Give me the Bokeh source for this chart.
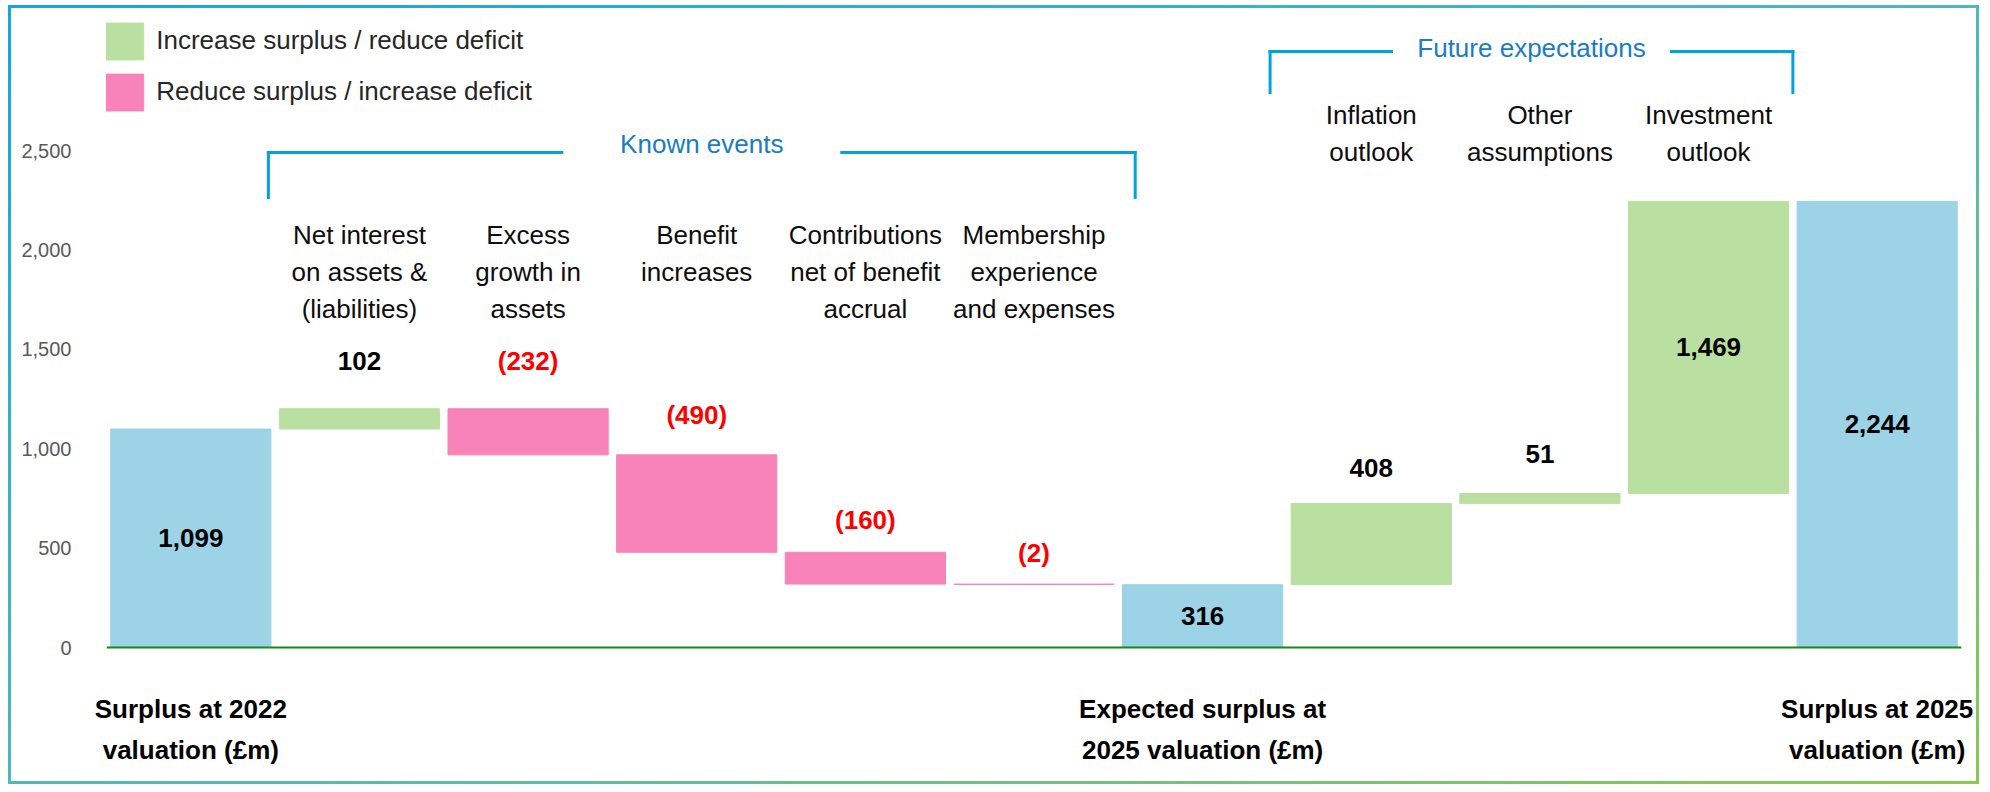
from bokeh.plotting import figure
from bokeh.models import (ColumnDataSource, Range1d, FixedTicker, NumeralTickFormatter,
                          Span, Legend, LegendItem, LinearAxis)
from bokeh.core.properties import value
from bokeh.embed import file_html
from bokeh.resources import INLINE

# ---------------- data ----------------
kinds = ["total", "delta", "delta", "delta", "delta", "delta",
         "total", "delta", "delta", "delta", "total"]
amounts = [1099, 102, -232, -490, -160, -2, 316, 408, 51, 1469, 2244]
top_labels = ["", "Net interest\non assets &\n(liabilities)", "Excess\ngrowth in\nassets",
              "Benefit\nincreases", "Contributions\nnet of benefit\naccrual",
              "Membership\nexperience\nand expenses", "",
              "Inflation\noutlook", "Other\nassumptions", "Investment\noutlook", ""]
bottom_labels = ["Surplus at 2022\nvaluation (£m)", "", "", "", "", "",
                 "Expected surplus at\n2025 valuation (£m)", "", "", "",
                 "Surplus at 2025\nvaluation (£m)"]
legend_labels = ["Increase surplus / reduce deficit", "Reduce surplus / increase deficit"]
group_titles = ["Known events", "Future expectations"]
y_ticks = [0, 500, 1000, 1500, 2000, 2500]

# ---------------- layout / style ----------------
FONT = "Liberation Sans"
W, H = 1971, 779
MB_LEFT, MB_RIGHT, MB_BOTTOM = 95, 21, 127
PAGE_TOP = 8           # canvas top on the page (5px margin + 3px border)
FRAME_BOTTOM = PAGE_TOP + H - MB_BOTTOM
Y0_PAGE = 647          # page y of value 0
PPU = 99.4 / 500       # pixels per unit
LH = 26 * 1.149        # Bokeh line box for 26px Liberation Sans


def Y(page_y):
    return (Y0_PAGE - page_y) / PPU


PX_PER_CAT = (W - MB_LEFT - MB_RIGHT) / 11.0
BLUE, GREEN, PINK = "#9dd3e6", "#b9e0a1", "#f783b9"
label_gap_px = [None, 48, 48, 40, 32, 31, None, 36, 39, None, None]
top_label_row = ["", "known", "known", "known", "known", "known", "", "future", "future", "future", ""]
row_top_y = {"known": Y(219.5), "future": Y(99.5)}
groups = [  # title, left (cat), right (cat), line page-y, bottom page-y, title page-y
    (group_titles[0], 0.46, 5.6, 152, 197, 143),
    (group_titles[1], 6.4, 9.5, 51, 92, 47),
]
GAP_PX = 140

# ---------------- waterfall geometry ----------------
x = list(range(len(amounts)))
bottoms, tops = [], []
level = 0
for k, a in zip(kinds, amounts):
    if k == "total":
        b, t = 0, a
        level = a
    else:
        b, t = level, level + a
        level += a
    bottoms.append(min(b, t))
    tops.append(max(b, t))


def subset(pred):
    idx = [i for i in x if pred(i)]
    return ColumnDataSource(dict(x=[x[i] for i in idx], bottom=[bottoms[i] for i in idx],
                                 top=[tops[i] for i in idx]))


src_tot = subset(lambda i: kinds[i] == "total")
src_inc = subset(lambda i: kinds[i] == "delta" and amounts[i] > 0)
src_dec = subset(lambda i: kinds[i] == "delta" and amounts[i] < 0)

p = figure(width=W, height=H, x_range=Range1d(-0.5, 10.5),
           y_range=Range1d(Y(FRAME_BOTTOM), Y(PAGE_TOP)),
           output_backend="svg", toolbar_location=None, x_axis_type=None,
           min_border_left=MB_LEFT, min_border_right=MB_RIGHT,
           min_border_top=0, min_border_bottom=MB_BOTTOM)
p.outline_line_color = None
p.ygrid.visible = False
p.background_fill_color = "white"
p.border_fill_color = "white"
p.styles = {"margin-left": "8px", "margin-top": "5px",
            "border": "3px solid #1ca7e0",
            "border-image": "linear-gradient(to bottom right, #13a6e3, #4fb8b8, #8bc853) 1"}

BW = 0.95
p.vbar(x="x", bottom="bottom", top="top", width=BW, source=src_tot, color=BLUE)
r_inc = p.vbar(x="x", bottom="bottom", top="top", width=BW, source=src_inc, color=GREEN)
r_dec = p.vbar(x="x", bottom="bottom", top="top", width=BW, source=src_dec, color=PINK)

p.add_layout(Span(location=0, dimension="width", line_color="#178a17", line_width=2))

# y axis
ax = p.yaxis[0]
ax.ticker = FixedTicker(ticks=y_ticks)
ax.formatter = NumeralTickFormatter(format="0,0")
ax.axis_line_color = None
ax.major_tick_line_color = None
ax.minor_tick_line_color = None
ax.major_label_text_font = FONT
ax.major_label_text_font_size = "20px"
ax.major_label_text_color = "#595959"
ax.major_label_standoff = 29

# x axis carrying the three total-bar captions
xt = [i for i in x if bottom_labels[i]]
xax = LinearAxis(ticker=FixedTicker(ticks=xt),
                 major_label_overrides={i: bottom_labels[i] for i in xt},
                 axis_line_color=None, major_tick_line_color=None, minor_tick_line_color=None,
                 major_tick_in=0, major_tick_out=0,
                 major_label_standoff=33,
                 major_label_text_font=FONT, major_label_text_font_style="bold",
                 major_label_text_font_size="26px", major_label_text_color="black",
                 major_label_text_line_height=41 / LH)
p.add_layout(xax, "below")

# value labels
lx, ly, lt, lc = [], [], [], []
for i in x:
    a = amounts[i]
    if kinds[i] == "total":
        txt, col = f"{a:,}", "black"
    else:
        txt = f"{a:,}" if a > 0 else f"({-a:,})"
        col = "black" if a > 0 else "#ff0000"
    gap = label_gap_px[i]
    yy = (bottoms[i] + tops[i]) / 2 if gap is None else tops[i] + gap / PPU
    lx.append(i); ly.append(yy); lt.append(txt); lc.append(col)
p.text(x="x", y="y", text="t", text_color="c",
       source=ColumnDataSource(dict(x=lx, y=ly, t=lt, c=lc)),
       text_font=value(FONT), text_font_style="bold", text_font_size="26px",
       text_align="center", text_baseline="middle")

# category labels above
tx, ty, tt = [], [], []
for i in x:
    if top_labels[i]:
        tx.append(i); ty.append(row_top_y[top_label_row[i]]); tt.append(top_labels[i])
p.text(x="x", y="y", text="t", source=ColumnDataSource(dict(x=tx, y=ty, t=tt)),
       text_font=value(FONT), text_font_size="26px", text_color="#0d0d0d",
       text_align="center", text_baseline="top", text_line_height=36.8 / LH)

# group brackets
gap_cat = GAP_PX / PX_PER_CAT
sx0, sy0, sx1, sy1 = [], [], [], []
gx, gy, gt = [], [], []
for title, xl, xr, yl, yb, yt in groups:
    xc = (xl + xr) / 2
    segs = [(xl, Y(yb), xl, Y(yl)), (xl, Y(yl), xc - gap_cat, Y(yl)),
            (xc + gap_cat, Y(yl), xr, Y(yl)), (xr, Y(yl), xr, Y(yb))]
    for a0, b0, a1, b1 in segs:
        sx0.append(a0); sy0.append(b0); sx1.append(a1); sy1.append(b1)
    gx.append(xc); gy.append(Y(yt)); gt.append(title)
p.segment(x0="x0", y0="y0", x1="x1", y1="y1",
          source=ColumnDataSource(dict(x0=sx0, y0=sy0, x1=sx1, y1=sy1)),
          line_color="#00a3da", line_width=3, line_cap="square")
p.text(x="x", y="y", text="t", source=ColumnDataSource(dict(x=gx, y=gy, t=gt)),
       text_font=value(FONT), text_font_size="26px", text_color="#1a7cc1",
       text_align="center", text_baseline="middle")

# legend (Bokeh insets area swatches by 10% on each side)
GW, GH = 38 / 0.8, 37 / 0.8
frame_h = H - MB_BOTTOM
legend_top_in_frame = (21 - 0.1 * GH) - PAGE_TOP
legend_h = 2 * GH + 6
legend = Legend(items=[LegendItem(label=legend_labels[0], renderers=[r_inc]),
                       LegendItem(label=legend_labels[1], renderers=[r_dec])],
                location=(-5.75, frame_h - legend_top_in_frame - legend_h),
                glyph_width=round(GW), glyph_height=round(GH),
                label_standoff=8, spacing=5, padding=0, margin=0,
                border_line_color=None, background_fill_alpha=0,
                label_text_font=FONT, label_text_font_size="26px",
                label_text_color="#262626", label_height=37)
p.add_layout(legend)

open("out.html", "w").write(file_html(p, INLINE))
